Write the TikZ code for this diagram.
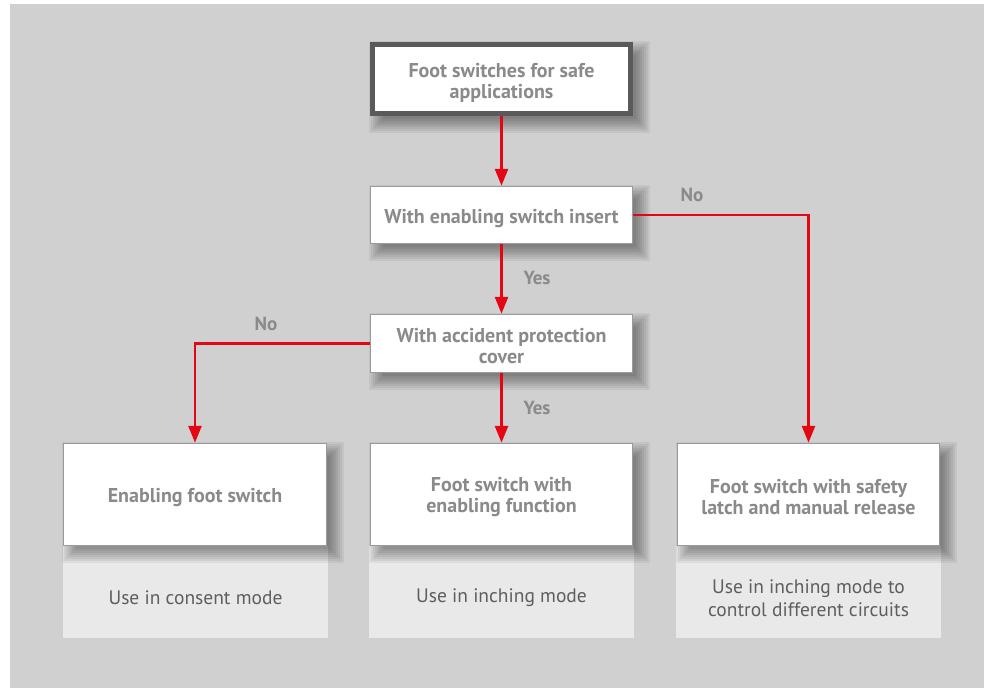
\documentclass[tikz,border=0pt]{standalone}
\usepackage{fontspec}
\setmainfont{PT Sans}
\usetikzlibrary{arrows.meta}
\definecolor{bgc}{HTML}{D0D0D0}
\definecolor{txtc}{HTML}{8A8A8A}
\definecolor{txtd}{HTML}{5E5E5E}
\definecolor{redc}{HTML}{E30613}
\definecolor{boxline}{HTML}{9A9A9A}
\definecolor{topline}{HTML}{5A5A5A}
\definecolor{lightbox}{HTML}{E9E9E9}
\pgfdeclarelayer{bglayer}
\pgfdeclarelayer{shadowlayer}
\pgfsetlayers{bglayer,shadowlayer,main}
\newcommand\myshad[1]{%
  \foreach \r in {-5,-3,-1,1,3,5,7,9}{%
    \fill[black,opacity=0.055] ([shift={(8-\r,8-\r)}]#1.north west) rectangle ([shift={(8+\r,8+\r)}]#1.south east);}}
\begin{document}
\begin{tikzpicture}[x=1pt,y=-1pt,
  wbox/.style={draw=boxline,line width=1.5pt,fill=white,inner sep=0pt},
  wtxt/.style={align=center,inner sep=0pt,
    font=\fontsize{20}{21}\selectfont\bfseries,text=txtc},
  gbox/.style={fill=lightbox,inner sep=0pt,minimum width=265pt,minimum height=92pt},
  gtxt/.style={align=center,inner sep=0pt,font=\fontsize{19.5}{23}\selectfont,text=txtd},
  arr/.style={draw=redc,line width=2.8pt,-{Triangle[length=17pt,width=13pt]}},
  lbl/.style={font=\fontsize{19}{20}\selectfont\bfseries,text=txtc}]
\useasboundingbox (0,0) rectangle (984,688);
\begin{pgfonlayer}{bglayer}
\fill[bgc] (10,4) rectangle (984,688);
\node[gbox] (gl) at (195.5,592) {};
\node[gbox] (gm) at (501.5,592) {};
\node[gbox] (gr) at (808.5,592) {};
\end{pgfonlayer}
\node[gtxt] (tl) at (195.5,598) {Use in consent mode};
\node[gtxt] (tm) at (501.5,598) {Use in inching mode};
\node[gtxt] (tr) at (808.5,598.5) {Use in inching mode to\\control different circuits};
% white boxes
\node[wbox,draw=topline,line width=5pt,minimum width=258pt,minimum height=69pt] (top) at (501.5,79) {};
\node[wbox,minimum width=262pt,minimum height=57pt] (b2) at (501.5,215) {};
\node[wbox,minimum width=262pt,minimum height=58pt] (b3) at (501.5,343.5) {};
\node[wbox,minimum width=263pt,minimum height=102pt] (l) at (195,494.5) {};
\node[wbox,minimum width=262pt,minimum height=102pt] (m) at (501.5,494.5) {};
\node[wbox,minimum width=262pt,minimum height=102pt] (r) at (808.5,494.5) {};
\node[wtxt] (ttop) at ([yshift=-3.5pt]top.center) {Foot switches for safe\\applications};
\node[wtxt] (tb2) at ([yshift=-3.5pt]b2.center) {With enabling switch insert};
\node[wtxt] (tb3) at ([yshift=-3pt]b3.center) {With accident protection\\cover};
\node[wtxt] (tl2) at ([yshift=-3pt]l.center) {Enabling foot switch};
\node[wtxt] (tm2) at ([yshift=-3pt]m.center) {Foot switch with\\enabling function};
\node[wtxt] (tr2) at ([yshift=-3pt]r.center) {Foot switch with safety\\latch and manual release};
\begin{pgfonlayer}{shadowlayer}
\myshad{top}\myshad{b2}\myshad{b3}\myshad{l}\myshad{m}\myshad{r}
\end{pgfonlayer}
% connectors
\draw[arr] (top) -- (b2);
\draw[arr] (b2) -- (b3);
\draw[arr] (b3) -- (m);
\draw[arr] (b3.west) -| (l.north);
\draw[arr] (b2.east) -| (r.north);
% labels
\node[lbl] (y1) at (537,278) {Yes};
\node[lbl] (y2) at (537,408) {Yes};
\node[lbl] (n1) at (266,324) {No};
\node[lbl] (n2) at (692,195) {No};
\end{tikzpicture}
\end{document}
